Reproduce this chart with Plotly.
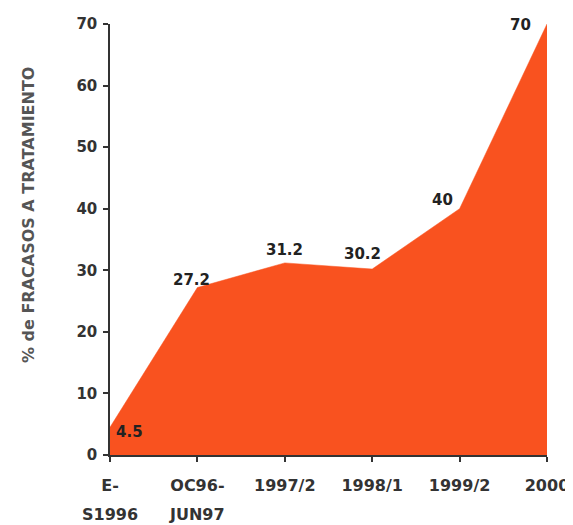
import plotly.graph_objects as go

categories = ["E-", "OC96-", "1997/2", "1998/1", "1999/2", "2000"]
categories_line2 = ["S1996", "JUN97", "", "", "", ""]
values = [4.5, 27.2, 31.2, 30.2, 40, 70]
value_labels = ["4.5", "27.2", "31.2", "30.2", "40", "70"]
y_title = "% de FRACASOS A TRATAMIENTO"

# label offsets (styling only)
label_style = [
    dict(xanchor="left", xshift=4, yshift=-5),
    dict(xanchor="center", xshift=-6, yshift=8),
    dict(xanchor="center", xshift=0, yshift=13),
    dict(xanchor="center", xshift=-10, yshift=15),
    dict(xanchor="center", xshift=-17, yshift=9),
    dict(xanchor="center", xshift=-27, yshift=-1),
]

FONT = "DejaVu Sans"
fill = "#F9521F"
x_idx = list(range(len(categories)))

fig = go.Figure()
fig.add_trace(go.Scatter(
    x=x_idx, y=values, mode="lines", fill="tozeroy",
    fillcolor=fill, line=dict(color=fill, width=0.5), hoverinfo="skip",
))

for i, (v, t) in enumerate(zip(values, value_labels)):
    s = label_style[i]
    fig.add_annotation(x=i, y=v, text=t, showarrow=False,
                       xanchor=s["xanchor"], yanchor="middle",
                       xshift=s["xshift"], yshift=s["yshift"],
                       font=dict(family=FONT, size=15, color="#222", weight="bold"))

for i, t in enumerate(categories_line2):
    if t:
        fig.add_annotation(x=i, y=0, text=t, showarrow=False,
                           xanchor="center", yanchor="middle", yshift=-59,
                           font=dict(family=FONT, size=16, color="#333", weight="bold"))

fig.add_annotation(xref="paper", yref="paper", x=-0.185, y=0.557,
                   text=y_title, textangle=-90, showarrow=False,
                   xanchor="center", yanchor="middle",
                   font=dict(family=FONT, size=16, color="#555", weight="bold"))

fig.update_layout(
    width=565, height=517,
    margin=dict(l=102, r=26, t=16, b=70),
    paper_bgcolor="white", plot_bgcolor="white",
    showlegend=False,
    xaxis=dict(
        range=[0, 5], tickmode="array", tickvals=x_idx, ticktext=categories,
        ticks="outside", ticklen=5, tickwidth=1.5, tickcolor="#333",
        showline=True, linecolor="#333", linewidth=1.5,
        showgrid=False, zeroline=False, automargin=False,
        ticklabelstandoff=10,
        tickfont=dict(family=FONT, size=16, color="#333", weight="bold"),
    ),
    yaxis=dict(
        range=[0, 70], dtick=10, tick0=0,
        ticks="outside", ticklen=5, tickwidth=1.5, tickcolor="#333",
        showline=True, linecolor="#333", linewidth=1.5,
        showgrid=False, zeroline=False, automargin=False,
        ticklabelstandoff=3,
        tickfont=dict(family=FONT, size=15, color="#333", weight="bold"),
    ),
)

fig.write_html("out.html")
